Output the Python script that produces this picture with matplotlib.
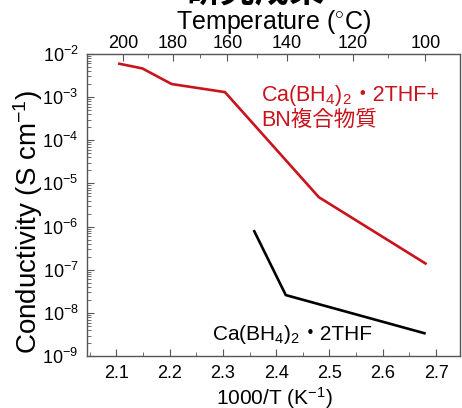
import numpy as np
import matplotlib
matplotlib.use('Agg')
import matplotlib.pyplot as plt
from matplotlib.ticker import MultipleLocator, LogLocator, NullFormatter, FixedLocator

plt.rcParams['font.family'] = ['Liberation Sans', 'Noto Sans CJK JP', 'DejaVu Sans']
plt.rcParams['mathtext.fontset'] = 'custom'
plt.rcParams['mathtext.rm'] = 'Liberation Sans'
plt.rcParams['mathtext.it'] = 'Liberation Sans'

# composite (red) and pristine (black) conductivity
bn_x = [2.106, 2.149, 2.204, 2.304, 2.480, 2.680]
bn_y = [5.9e-3, 4.6e-3, 2.0e-3, 1.3e-3, 4.8e-6, 1.4e-7]
pure_x = [2.359, 2.418, 2.678]
pure_y = [7.8e-7, 2.6e-8, 3.4e-9]

temp_major = [200, 180, 160, 140, 120, 100]
temp_minor = [190, 170, 150, 130, 110]
x_ticks = [2.1, 2.2, 2.3, 2.4, 2.5, 2.6, 2.7]
y_exps = [-9, -8, -7, -6, -5, -4, -3, -2]
red = '#c8141c'
frame = '#555555'

fig = plt.figure(figsize=(4.62, 4.08), dpi=100)
ax = fig.add_axes([0.188, 0.127, 0.808, 0.741])

ax.plot(bn_x, bn_y, color=red, lw=1.9)
ax.plot(pure_x, pure_y, color='black', lw=1.9)

ax.set_yscale('log')
ax.set_xlim(2.045, 2.745)
ax.set_ylim(1e-9, 1e-2)
ax.set_xticks(x_ticks)
ax.set_xticklabels(['%.1f' % v for v in x_ticks])
ax.xaxis.set_minor_locator(MultipleLocator(0.05))
ax.set_yticks([10.0 ** k for k in y_exps])
ax.set_yticklabels(['$10^{%d}$' % k for k in y_exps])
ax.yaxis.set_minor_locator(LogLocator(base=10, subs=np.arange(2, 10), numticks=20))
ax.yaxis.set_minor_formatter(NullFormatter())

ax.tick_params(which='both', direction='in', color=frame, labelsize=13, right=False, top=False)
ax.tick_params(which='major', length=5, pad=6)
ax.tick_params(which='minor', length=3)
for s in ax.spines.values():
    s.set_color(frame)
    s.set_linewidth(1.0)

ax.set_xlabel('1000/T (K$^{-1}$)', fontsize=15)
ax.xaxis.set_label_coords(0.501, -0.096)
ax.set_ylabel('Conductivity (S cm$^{-1}$)', fontsize=20)
ax.yaxis.set_label_coords(-0.113, 0.444)

# top axis: temperature in Celsius
top = ax.twiny()
top.set_xlim(ax.get_xlim())
top.xaxis.set_major_locator(FixedLocator([1000 / (t + 273.15) for t in temp_major]))
top.xaxis.set_minor_locator(FixedLocator([1000 / (t + 273.15) for t in temp_minor]))
top.set_xticklabels([str(t) for t in temp_major])
top.tick_params(which='both', direction='in', color=frame, labelsize=13)
top.tick_params(which='major', length=5, pad=1)
top.tick_params(which='minor', length=3)
top.set_xlabel('Temperature ($^{\\circ}$C)', fontsize=18)
top.xaxis.set_label_coords(0.501, 1.083)
for s in top.spines.values():
    s.set_visible(False)

# labels: formula part in mathtext, the rest as plain text so the CJK dot renders
t1 = ax.text(2.372, 10 ** -3.09, 'Ca(BH$_4$)$_2$', color=red, fontsize=15.5, va='baseline')
ax.annotate('・2THF+', xy=(1, 10 ** -3.09), xycoords=(t1, 'data'), color=red,
            fontsize=15.5, va='baseline')
ax.text(2.372, 10 ** -3.68, 'BN複合物質', color=red, fontsize=15.5, va='baseline')

t2 = ax.text(2.280, 10 ** -8.63, 'Ca(BH$_4$)$_2$', color='black', fontsize=15, va='baseline')
ax.annotate('・2THF', xy=(1, 10 ** -8.63), xycoords=(t2, 'data'), color='black',
            fontsize=15, va='baseline')

fig.text(0.552, 1 - 9 / 408, '研究成果', fontsize=25, fontweight='bold',
         family=['Noto Sans CJK JP'], ha='center', va='bottom')

fig.savefig('out.png', dpi=100)
